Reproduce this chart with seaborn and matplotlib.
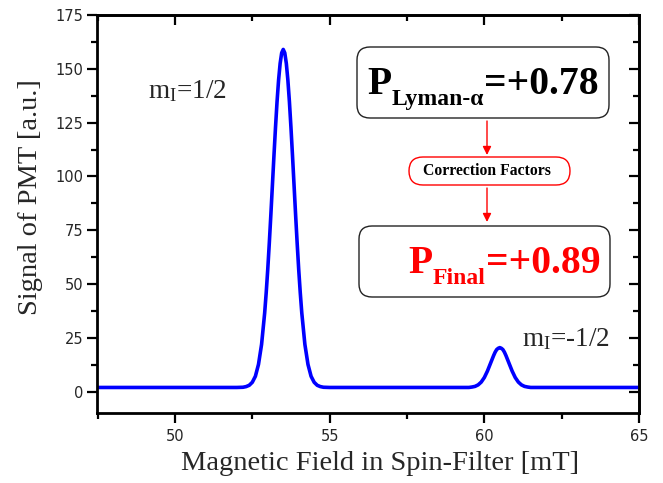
import matplotlib
matplotlib.use("Agg")
import matplotlib.pyplot as plt
import seaborn as sns
import pandas as pd
from matplotlib.patches import FancyBboxPatch, FancyArrowPatch
from matplotlib.transforms import IdentityTransform
from matplotlib.ticker import MultipleLocator

# Data
field_mT = [47.4, 52.0, 52.2, 52.3, 52.4, 52.5, 52.6, 52.7, 52.8, 52.9, 52.95, 53.0, 53.05,
            53.1, 53.15, 53.2, 53.25, 53.3, 53.35, 53.4, 53.45, 53.5, 53.55, 53.6, 53.65,
            53.7, 53.75, 53.8, 53.85, 53.9, 53.95, 54.0, 54.05, 54.1, 54.2, 54.3, 54.4,
            54.5, 54.6, 54.7, 54.8, 55.0,
            59.5, 59.6, 59.7, 59.8, 59.9, 60.0, 60.1, 60.2, 60.3, 60.35, 60.4,
            60.45, 60.5, 60.55, 60.6, 60.65, 60.7, 60.8, 60.9, 61.0, 61.1, 61.2,
            61.3, 61.4, 61.5, 65.1]
signal = [2.0, 2.0, 2.1, 2.4, 3.0, 4.4, 7.2, 12.7, 22.0, 36.6, 46.1, 56.9, 69.1,
          82.2, 95.9, 109.6, 122.7, 134.7, 144.8, 152.5, 157.4, 159.0, 157.4, 152.5, 144.8,
          134.7, 122.7, 109.6, 95.9, 82.2, 69.1, 56.9, 46.1, 36.6, 22.0, 12.7, 7.2,
          4.4, 3.0, 2.4, 2.1, 2.0,
          2.0, 2.2, 2.5, 3.2, 4.5, 6.6, 9.6, 13.2, 16.8, 18.4, 19.6,
          20.2, 20.5, 20.2, 19.6, 18.4, 16.8, 13.2, 9.6, 6.6, 4.5, 3.2,
          2.5, 2.2, 2.0, 2.0]

x_ticks = [50, 55, 60, 65]
y_ticks = [0, 25, 50, 75, 100, 125, 150, 175]

label_upper = r"m$_\mathrm{I}$=1/2"
label_lower = r"m$_\mathrm{I}$=-1/2"
lyman_parts = ["P", "Lyman-α", "=+0.78"]
final_parts = ["P", "Final", "=+0.89"]
text_corr = "Correction Factors"

sns.set_style("ticks")
plt.rcParams["font.family"] = ["DejaVu Sans"]
plt.rcParams["mathtext.fontset"] = "custom"
plt.rcParams["mathtext.rm"] = "Liberation Serif"
plt.rcParams["mathtext.it"] = "Liberation Serif:italic"
plt.rcParams["mathtext.bf"] = "Liberation Serif:bold"

W, H = 663, 483
ax_l, ax_r, ax_t, ax_b = 97.3, 639, 15, 413.3
fig = plt.figure(figsize=(W / 100, H / 100), dpi=100)
ax = fig.add_axes([ax_l / W, 1 - ax_b / H, (ax_r - ax_l) / W, (ax_b - ax_t) / H])

df = pd.DataFrame({"field": field_mT, "signal": signal})
sns.lineplot(data=df, x="field", y="signal", ax=ax, color="#0000ff", linewidth=2.6)

ax.set_xlim(47.49, 65)
ax.set_ylim(-10, 175)
ax.set_xticks(x_ticks)
ax.set_yticks(y_ticks)
ax.xaxis.set_minor_locator(MultipleLocator(2.5))
ax.yaxis.set_minor_locator(MultipleLocator(12.5))

for s in ax.spines.values():
    s.set_visible(True)
    s.set_linewidth(2.0)
    s.set_color("black")

ax.tick_params(which="both", direction="out", top=False, right=False,
               width=1.6, color="black")
ax.tick_params(which="major", length=7)
ax.tick_params(which="minor", length=4)
ax.tick_params(axis="x", labelsize=10.5, pad=4)
ax.tick_params(axis="y", labelsize=10.5, pad=3)

# Mirror ticks on top and right, pointing inward
secx = ax.secondary_xaxis("top")
secx.set_xticks(x_ticks)
secx.xaxis.set_minor_locator(MultipleLocator(2.5))
secx.tick_params(which="both", direction="in", labeltop=False, width=1.6, color="black")
secx.tick_params(which="major", length=7)
secx.tick_params(which="minor", length=4)
secx.spines["top"].set_linewidth(2.0)

secy = ax.secondary_yaxis("right")
secy.set_yticks(y_ticks)
secy.yaxis.set_minor_locator(MultipleLocator(12.5))
secy.tick_params(which="both", direction="in", labelright=False, width=1.6, color="black")
secy.tick_params(which="major", length=7)
secy.tick_params(which="minor", length=4)
secy.spines["right"].set_linewidth(2.0)

ax.set_xlabel("Magnetic Field in Spin-Filter [mT]", family="Liberation Serif", fontsize=20.5)
ax.set_ylabel("Signal of PMT [a.u.]", family="Liberation Serif", fontsize=20.5)
ax.xaxis.set_label_coords((380 - ax_l) / (ax_r - ax_l), (ax_b - 451) / (ax_b - ax_t))
ax.yaxis.set_label_coords((43 - ax_l) / (ax_r - ax_l), (ax_b - 197) / (ax_b - ax_t))

ax.text(49.13, 136.5, label_upper, family="Liberation Serif", fontsize=19.5, va="baseline", ha="left")
ax.text(61.22, 21.0, label_lower, family="Liberation Serif", fontsize=19.5, va="baseline", ha="left")

idt = IdentityTransform()

def box(x0, ytop, x1, ybot, r, ec, lw):
    p = FancyBboxPatch((x0, H - ybot), x1 - x0, ybot - ytop,
                       boxstyle=f"round,pad=0,rounding_size={r}",
                       transform=idt, facecolor="white", edgecolor=ec, linewidth=lw,
                       figure=fig)
    fig.patches.append(p)

box(357, 47, 609, 118, 13, "#222222", 1.0)
box(409, 157, 570, 185, 14, "#ff0000", 1.0)
box(359, 226, 610, 297, 13, "#222222", 1.0)

renderer = fig.canvas.get_renderer()

def subscripted(x, baseline, parts, color, big=28.5, small=17, drop=11):
    sizes = [big, small, big]
    drops = [0, drop, 0]
    for s, fs, d in zip(parts, sizes, drops):
        t = fig.text(x, H - (baseline + d), s, transform=idt, family="Liberation Serif",
                     fontweight="bold", fontsize=fs, ha="left", va="baseline", color=color)
        x += t.get_window_extent(renderer).width

subscripted(367.5, 94, lyman_parts, "black")
subscripted(408.5, 273, final_parts, "#ff0000")

fig.text(487, H - 171, text_corr, transform=idt, family="Liberation Serif", fontweight="bold",
         fontsize=11.3, ha="center", va="center", color="black")

for y0, y1 in [(121, 155), (188, 222)]:
    fig.add_artist(FancyArrowPatch((487, H - y0), (487, H - y1), transform=idt,
                                   arrowstyle="-|>,head_length=5,head_width=2.5",
                                   color="#ff0000", linewidth=1.0,
                                   shrinkA=0, shrinkB=0))

fig.savefig("out.png", dpi=100)
